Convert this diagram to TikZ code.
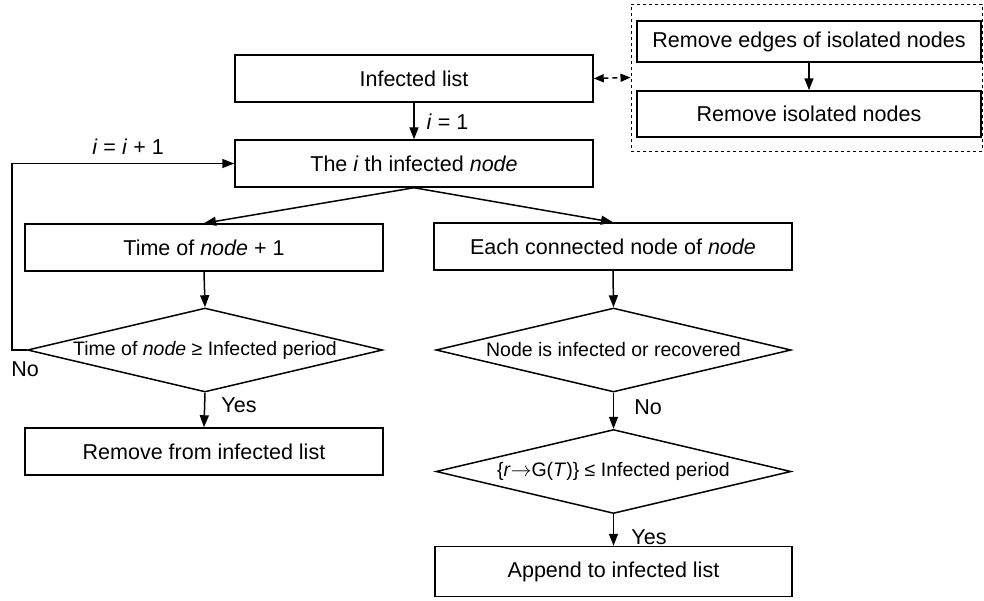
\documentclass[tikz,border=0pt]{standalone}
\usepackage{fontspec}
\setmainfont{Liberation Sans}
\usetikzlibrary{shapes.geometric,arrows.meta}
\begin{document}
\begin{tikzpicture}[x=1pt,y=-1pt,
  every node/.style={font=\fontsize{21.5}{24}\selectfont},
  box/.style={draw,line width=1.5pt,inner sep=0pt,minimum width=358,minimum height=47},
  dia/.style={draw,line width=1.5pt,diamond,inner sep=0pt,aspect=4.2,minimum width=355,minimum height=84,font=\fontsize{19.5}{22}\selectfont},
  lbl/.style={inner sep=0pt},
  arr/.style={line width=1.5pt,-{Triangle[length=12pt,width=9pt]}}
]
\useasboundingbox (0,0) rectangle (984,600);
\node[box] (list) at (414,78.5) {Infected list};
\node[box] (ith) at (414,163.5) {The \textit{i} th infected \textit{node}};
\node[box] (time) at (204,247.5) {Time of \textit{node} + 1};
\node[box] (each) at (613,246.5) {Each connected node of \textit{node}};
\node[dia] (d1) at (205,350) {Time of \textit{node} ≥ Infected period};
\node[dia] (d2) at (613.5,350) {Node is infected or recovered};
\node[dia] (d3) at (613.5,471.5) {\{\textit{r}$\rightarrow$G(\textit{T})\} ≤ Infected period};
\node[box] (remove) at (204,451.5) {Remove from infected list};
\node[box,minimum width=357,minimum height=50] (append) at (613.5,571.5) {Append to infected list};
\node[draw,dashed,line width=1pt,inner sep=0pt,minimum width=351,minimum height=147] (grp) at (806.5,77.5) {};
\node[box,minimum width=344,minimum height=41] (edges) at (809,41.5) {Remove edges of isolated nodes};
\node[box,minimum width=344,minimum height=46] (isol) at (809,114) {Remove isolated nodes};
\coordinate (lp) at (12,350);

\draw[arr] (list.south) -- (ith.north);
\node[lbl] (l1) at (447.5,122) {\textit{i} = 1};
\draw[arr] (ith.south) -- (time.north);
\draw[arr] (ith.south) -- (each.north);
\draw[arr] (time.south) -- (d1.north);
\draw[arr] (d1.south) -- (remove.north);
\node[lbl] (y1) at (239,405) {Yes};
\draw[arr] (d1.west) -- (lp) |- (ith.west);
\node[lbl] (n1) at (25,369) {No};
\node[lbl] (l2) at (128,147) {\textit{i} = \textit{i} + 1};
\draw[arr] (each.south) -- (d2.north);
\draw[arr] (d2.south) -- (d3.north);
\node[lbl] (n2) at (648,407) {No};
\draw[arr] (d3.south) -- (append.north);
\node[lbl] (y2) at (649,537) {Yes};
\draw[arr] (edges.south) -- (isol.north);
\draw[line width=1.5pt,dash pattern=on 5pt off 4pt,{Triangle[length=10pt,width=8pt]}-{Triangle[length=10pt,width=8pt]}] (list.east) -- (grp.west);
\end{tikzpicture}
\end{document}
